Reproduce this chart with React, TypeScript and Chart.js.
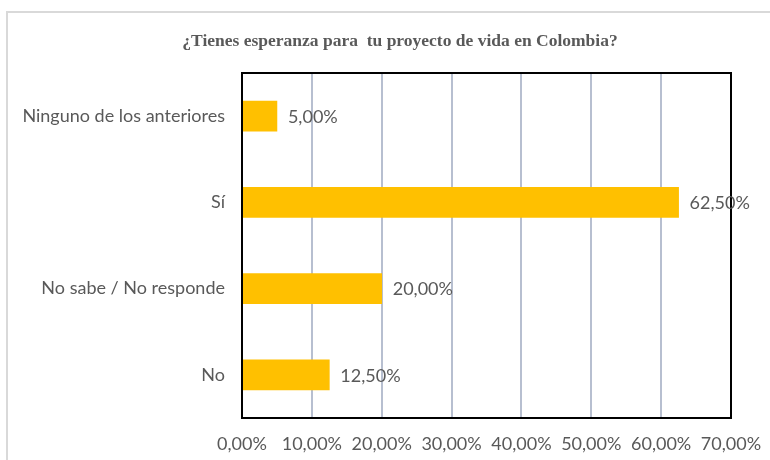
import React, { useEffect, useRef } from "react";
import { Chart, registerables } from "chart.js";

Chart.register(...registerables);

const titleText = "¿Tienes esperanza para  tu proyecto de vida en Colombia?";
const categories = ["Ninguno de los anteriores", "Sí", "No sabe / No responde", "No"];
const values = [5, 62.5, 20, 12.5];
const axisMin = 0;
const axisMax = 70;
const axisStep = 10;

const fmt = (v: number) => v.toFixed(2).replace(".", ",") + "%";

const TEXT = "#595959";
const LABEL_FONT = "Lato";

const outerFrame = {
  id: "outerFrame",
  beforeDraw(chart: any) {
    const ctx = chart.ctx;
    ctx.save();
    ctx.fillStyle = "#ffffff";
    ctx.fillRect(0, 0, chart.width, chart.height);
    ctx.strokeStyle = "#d9d9d9";
    ctx.lineWidth = 2;
    ctx.strokeRect(7, 12, 820, 520);
    ctx.fillStyle = TEXT;
    ctx.font = `bold 17.5px "Liberation Serif"`;
    ctx.textAlign = "center";
    ctx.textBaseline = "alphabetic";
    ctx.fillText(titleText, 400, 46);
    ctx.restore();
  },
};

const plotBorder = {
  id: "plotBorder",
  afterDatasetsDraw(chart: any) {
    const { ctx, chartArea } = chart;
    ctx.save();
    ctx.strokeStyle = "#000000";
    ctx.lineWidth = 2;
    ctx.strokeRect(chartArea.left, chartArea.top, chartArea.right - chartArea.left, chartArea.bottom - chartArea.top);
    ctx.restore();
  },
};

const barLabels = {
  id: "barLabels",
  afterDraw(chart: any) {
    const ctx = chart.ctx;
    const meta = chart.getDatasetMeta(0);
    ctx.save();
    ctx.fillStyle = TEXT;
    ctx.font = `18px ${LABEL_FONT}`;
    ctx.textAlign = "left";
    ctx.textBaseline = "middle";
    meta.data.forEach((el: any, i: number) => {
      ctx.fillText(fmt(values[i]), el.x + 11, el.y + 1);
    });
    ctx.restore();
  },
};

export default function App() {
  const ref = useRef<HTMLCanvasElement | null>(null);

  useEffect(() => {
    if (!ref.current) return;
    const chart = new Chart(ref.current, {
      type: "bar",
      data: {
        labels: categories,
        datasets: [
          {
            data: values,
            backgroundColor: "#FFC000",
            borderWidth: 0,
            barThickness: 30,
          },
        ],
      },
      options: {
        indexAxis: "y",
        animation: false,
        responsive: false,
        devicePixelRatio: 1,
        layout: { padding: { left: 10, right: 39, top: 73, bottom: 0 } },
        plugins: {
          legend: { display: false },
          tooltip: { enabled: false },
          title: { display: false },
        },
        scales: {
          x: {
            min: axisMin,
            max: axisMax,
            ticks: {
              stepSize: axisStep,
              color: TEXT,
              font: { family: LABEL_FONT, size: 18 },
              padding: 15,
              maxRotation: 0,
              autoSkip: false,
              callback: (v: any) => fmt(Number(v)),
            },
            grid: { color: "#b7bfd0", lineWidth: 2, drawTicks: false },
            border: { display: false },
            afterFit: (scale: any) => {
              scale.height = 42;
              scale.paddingLeft = 0;
              scale.paddingRight = 0;
            },
          },
          y: {
            ticks: {
              color: TEXT,
              font: { family: LABEL_FONT, size: 18 },
              padding: 17,
            },
            grid: { display: false, drawTicks: false },
            border: { display: false },
            afterFit: (scale: any) => {
              scale.width = 232;
            },
          },
        },
      },
      plugins: [outerFrame, plotBorder, barLabels],
    });
    return () => chart.destroy();
  }, []);

  return (
    <div style={{ position: "fixed", left: 0, top: 0, width: 770, height: 460, background: "#fff" }}>
      <canvas ref={ref} width={770} height={460} style={{ display: "block" }} />
    </div>
  );
}
